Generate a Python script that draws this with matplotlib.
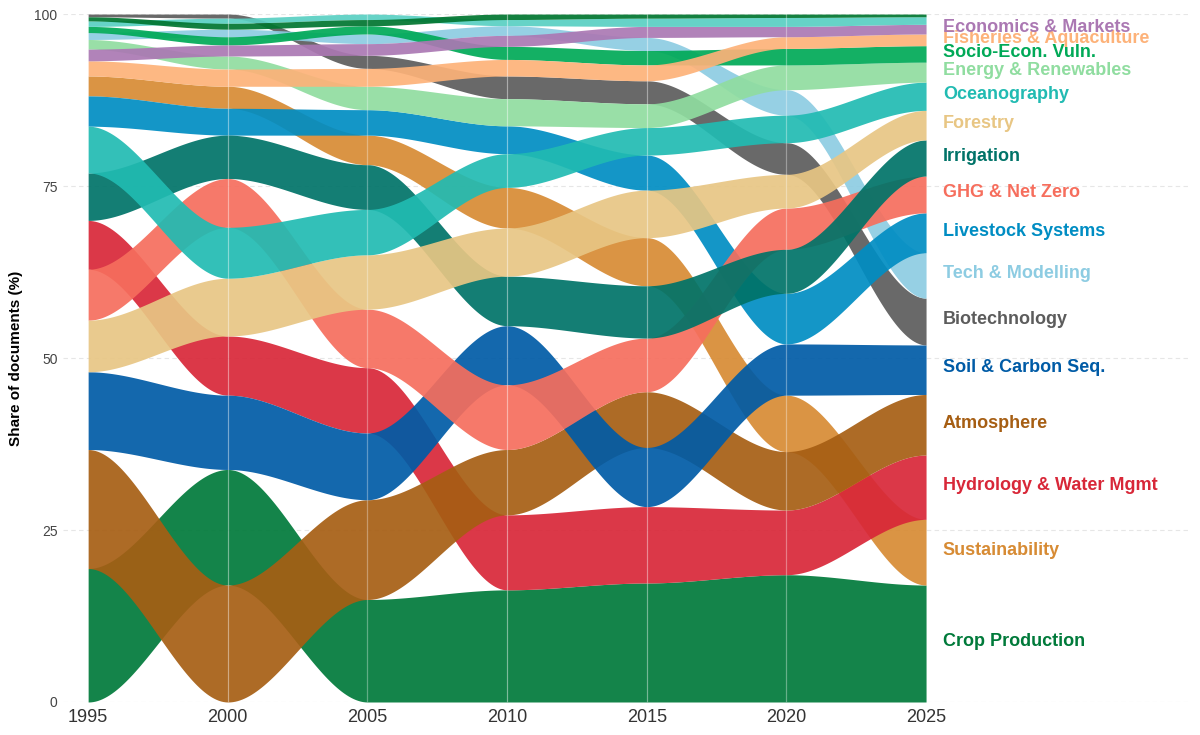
import numpy as np
import matplotlib
matplotlib.use("Agg")
import matplotlib.pyplot as plt

plt.rcParams["font.family"] = ["Liberation Sans", "DejaVu Sans"]

# shares of documents (%) per topic, one value per year
years = [1995, 2000, 2005, 2010, 2015, 2020, 2025]

crop = [19.4, 16.8, 14.9, 16.3, 17.3, 18.5, 17.0]
sustainability = [2.9, 3.2, 4.3, 5.9, 7.0, 8.2, 9.55]
hydrology = [7.1, 8.6, 9.5, 10.9, 11.1, 9.4, 9.35]
atmosphere = [17.3, 17.0, 14.5, 9.5, 8.1, 8.5, 8.8]
soil = [11.3, 10.8, 9.7, 8.6, 8.6, 7.45, 7.2]
biotech = [0.4, 0.6, 1.9, 3.3, 3.35, 4.6, 6.8]
tech = [1.0, 1.1, 1.4, 1.4, 1.9, 3.7, 6.6]
livestock = [4.4, 3.9, 3.7, 4.05, 5.1, 7.35, 5.8]
ghg = [7.4, 7.1, 8.5, 9.4, 7.8, 6.0, 5.35]
irrigation = [6.9, 6.3, 6.5, 7.2, 7.6, 6.4, 5.25]
forestry = [7.5, 8.4, 7.9, 7.0, 6.9, 4.9, 4.3]
oceanography = [6.8, 7.4, 6.6, 4.9, 4.0, 4.0, 4.1]
energy = [1.4, 1.9, 3.4, 3.95, 3.45, 3.6, 2.9]
socio = [0.9, 1.2, 1.2, 1.9, 2.1, 2.4, 2.4]
fisheries = [2.2, 2.5, 2.6, 2.4, 2.3, 1.7, 1.7]
economics = [1.7, 1.6, 1.7, 1.6, 1.6, 1.5, 1.4]
other_a = [0.8, 0.75, 0.8, 0.9, 1.2, 1.3, 1.1]
other_b = [0.6, 0.85, 0.9, 0.8, 0.6, 0.5, 0.4]

topics = ["Crop Production", "Sustainability", "Hydrology & Water Mgmt", "Atmosphere",
          "Soil & Carbon Seq.", "Biotechnology", "Tech & Modelling", "Livestock Systems",
          "GHG & Net Zero", "Irrigation", "Forestry", "Oceanography",
          "Energy & Renewables", "Socio-Econ. Vuln.", "Fisheries & Aquaculture",
          "Economics & Markets", "Other A", "Other B"]
shares = [crop, sustainability, hydrology, atmosphere, soil, biotech, tech, livestock,
          ghg, irrigation, forestry, oceanography, energy, socio, fisheries, economics,
          other_a, other_b]
colors = ["#007a3a", "#d78b34", "#d82738", "#a65e13", "#005ba6", "#5c5c5c", "#8dcce2",
          "#008dc3", "#f66e5d", "#007368", "#e8c684", "#21bbb2", "#90dda0", "#00a957",
          "#fdb279", "#ab78b3", "#59d0c3", "#00752f"]
labelled = [True] * 16 + [False, False]

vals = np.array(shares)          # topics x years
n_top, n_yr = vals.shape

# stack each year by rank: largest share at the bottom
lower = np.zeros_like(vals)
upper = np.zeros_like(vals)
for j in range(n_yr):
    order = np.argsort(-vals[:, j], kind="stable")
    base = 0.0
    for i in order:
        lower[i, j] = base
        base += vals[i, j]
        upper[i, j] = base


def smooth(t):
    return t * t * (3 - 2 * t)


fig = plt.figure(figsize=(12, 7.35), dpi=100)
ax = fig.add_axes([63 / 1200, 0.0449, 1127 / 1200, 0.936])

for yv in [0, 25, 50, 75, 100]:
    ax.axhline(yv, color="#e6e6e6", lw=0.8, ls=(0, (4, 3)), zorder=0)

t = np.linspace(0, 1, 60)
s = smooth(t)
for i in range(n_top):
    for j in range(n_yr - 1):
        x = years[j] + t * (years[j + 1] - years[j])
        lo = lower[i, j] + s * (lower[i, j + 1] - lower[i, j])
        hi = upper[i, j] + s * (upper[i, j + 1] - upper[i, j])
        ax.fill_between(x, lo, hi, color=colors[i], alpha=0.92, lw=0, zorder=2)

# faint seams at each year
for yr in years[1:-1]:
    ax.plot([yr, yr], [0, 100], color="white", lw=0.9, alpha=0.3, zorder=3)

# labels at the right, centred on the 2025 band
for i in range(n_top):
    if not labelled[i]:
        continue
    yc = (lower[i, -1] + upper[i, -1]) / 2
    ax.text(2025.6, yc + 0.25, topics[i], color=colors[i], fontsize=13,
            fontweight="bold", va="center", ha="left", zorder=4)

ax.set_xlim(1994.1, 2034.45)
ax.set_ylim(0, 100)
ax.set_xticks(years)
ax.set_xticklabels([str(y) for y in years], fontsize=13, color="#333333")
ax.set_yticks([0, 25, 50, 75, 100])
ax.set_yticklabels(["0", "25", "50", "75", "100"], fontsize=10, color="#444444")
ax.tick_params(length=0, pad=4)
ax.tick_params(axis="x", pad=5)
for sp in ax.spines.values():
    sp.set_visible(False)
ax.set_ylabel("Share of documents (%)", fontsize=11, fontweight="bold", labelpad=8)

fig.savefig("out.png", dpi=100)
